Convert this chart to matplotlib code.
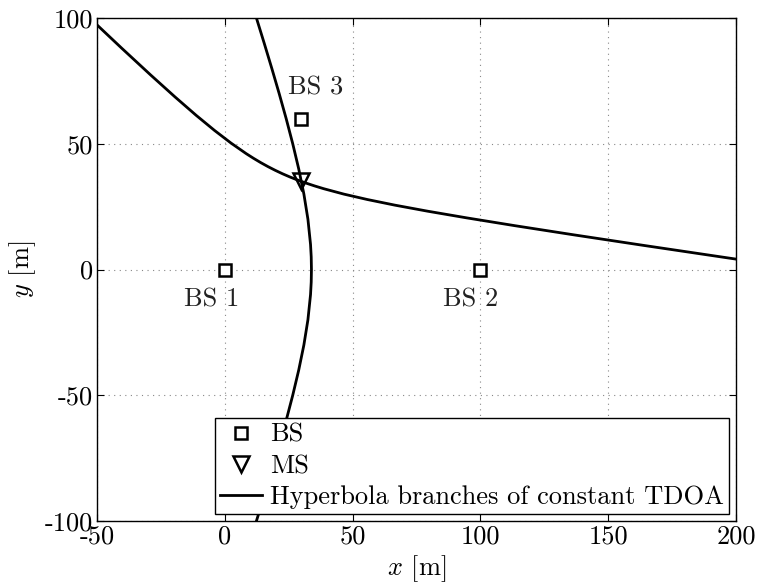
import matplotlib
matplotlib.use("Agg")
import matplotlib.pyplot as plt

plt.rcParams['font.family'] = ['cmr10', 'DejaVu Serif']
plt.rcParams['mathtext.fontset'] = 'cm'
plt.rcParams['axes.unicode_minus'] = False
plt.rcParams['axes.formatter.use_mathtext'] = False

# Base stations and mobile station
bs_x = [0, 100, 30]
bs_y = [0, 0, 60]
bs_labels = ['BS 1', 'BS 2', 'BS 3']
bs_label_x = [-5, 96, 35.5]
bs_label_y = [-12, -12, 72.5]
ms_x = [30]
ms_y = [35]

# Hyperbola branch (BS1-BS2)
h1_x = [9.27, 12.37, 15.41, 18.38, 21.26, 24.01, 26.58, 28.92, 30.94, 32.52, 33.54, 33.81, 33.90,
        33.81, 33.54, 32.52, 30.94, 28.92, 26.58, 24.01, 21.26, 18.38, 15.41, 12.37, 9.27]
h1_y = [110, 100, 90, 80, 70, 60, 50, 40, 30, 20, 10, 5, 0,
        -5, -10, -20, -30, -40, -50, -60, -70, -80, -90, -100, -110]

# Hyperbola branch (BS1-BS3)
h2_x = [-54.12, -40.49, -29.08, -19.44, -11.19, -3.98, 2.46, 8.40, 11.26, 14.08, 16.89, 19.72,
        22.59, 25.55, 28.60, 31.80, 35.16, 38.72, 46.60, 55.75, 66.53, 79.38, 94.81, 113.44,
        136.03, 163.48, 196.88, 216.22]
h2_y = [101.21, 88.14, 77.41, 68.58, 61.29, 55.26, 50.25, 46.05, 44.20, 42.49, 40.91, 39.44,
        38.06, 36.76, 35.53, 34.35, 33.22, 32.12, 29.97, 27.83, 25.59, 23.18, 20.50, 17.43,
        13.86, 9.64, 4.60, 1.72]

x_ticks = [-50, 0, 50, 100, 150, 200]
y_ticks = [-100, -50, 0, 50, 100]

FS = 19

fig = plt.figure(figsize=(7.57, 5.83), dpi=100)
ax = fig.add_axes([97/757, 62/583, 639/757, 503/583])

ax.plot(bs_x, bs_y, 's', ms=9, mfc='white', mec='black', mew=1.8, color='black', label='BS', zorder=4)
ax.plot(ms_x, ms_y, 'v', ms=12, mfc='none', mec='black', mew=1.8, color='black', label='MS', zorder=4)
ax.plot(h1_x, h1_y, '-', color='black', lw=2.0, label='Hyperbola branches of constant TDOA', zorder=3)
ax.plot(h2_x, h2_y, '-', color='black', lw=2.0, zorder=3)

for lx, ly, t in zip(bs_label_x, bs_label_y, bs_labels):
    ax.text(lx, ly, t, ha='center', va='center', fontsize=FS, color='#222222')

ax.set_xlim(-50, 200)
ax.set_ylim(-100, 100)
ax.set_xticks(x_ticks)
ax.set_yticks(y_ticks)
ax.tick_params(direction='in', top=True, right=True, labelsize=FS, length=5, width=0.8, pad=3)
ax.grid(True, linestyle=(0, (1, 4)), color='#888888', lw=0.8)
for s in ax.spines.values():
    s.set_linewidth(1.0)

ax.set_xlabel('$x$ [m]', fontsize=FS, labelpad=3)
ax.set_ylabel('$y$ [m]', fontsize=FS, labelpad=5)

leg = ax.legend(loc='lower right', fontsize=FS, fancybox=False, framealpha=1, edgecolor='black',
                borderaxespad=0.25, labelspacing=0.28, handlelength=1.6, handletextpad=0.3,
                borderpad=0.2)
leg.get_frame().set_linewidth(1.0)

fig.savefig('out.png', dpi=100)
